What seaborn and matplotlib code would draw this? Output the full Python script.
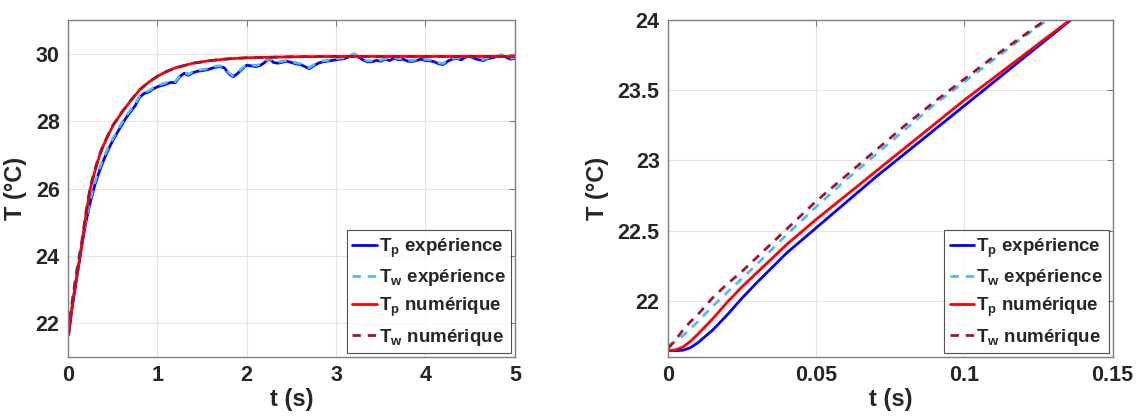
import numpy as np
import pandas as pd
import matplotlib
matplotlib.use("Agg")
import matplotlib.pyplot as plt
import seaborn as sns

# early times (s), shared by every series
t_early = [0, 0.0025, 0.005, 0.0075, 0.01, 0.015, 0.02, 0.025, 0.03, 0.04, 0.05,
           0.06, 0.07, 0.08, 0.09, 0.1, 0.11, 0.12, 0.13, 0.14, 0.15]

tp_exp_early = [21.645, 21.645, 21.648, 21.665, 21.70, 21.79, 21.90, 22.02, 22.13, 22.34, 22.52,
                22.70, 22.88, 23.05, 23.22, 23.39, 23.56, 23.73, 23.90, 24.07, 24.24]
tw_exp_early = [21.68, 21.71, 21.75, 21.80, 21.85, 21.96, 22.06, 22.16, 22.26, 22.47, 22.67,
                22.86, 23.04, 23.22, 23.40, 23.56, 23.72, 23.88, 24.03, 24.18, 24.33]
tp_num_early = [21.645, 21.65, 21.67, 21.71, 21.76, 21.87, 21.99, 22.10, 22.20, 22.40, 22.58,
                22.75, 22.92, 23.09, 23.26, 23.43, 23.59, 23.75, 23.91, 24.07, 24.23]
tw_num_early = [21.66, 21.72, 21.79, 21.85, 21.90, 22.02, 22.12, 22.21, 22.31, 22.51, 22.71,
                22.89, 23.07, 23.25, 23.42, 23.58, 23.74, 23.89, 24.04, 24.19, 24.34]

# later part, experiment sampled every 0.05 s from 0.2 to 5 s
t_exp_late = np.linspace(0.2, 5.0, 97)
tp_exp_late = [25.00, 25.60, 26.10, 26.50, 26.85, 27.15, 27.42, 27.65, 27.88, 28.10,
               28.28, 28.45, 28.70, 28.82, 28.86, 28.95, 29.02, 29.06, 29.10, 29.15,
               29.14, 29.32, 29.42, 29.36, 29.44, 29.48, 29.50, 29.52, 29.56, 29.60,
               29.62, 29.58, 29.40, 29.32, 29.42, 29.55, 29.66, 29.64, 29.62, 29.65,
               29.74, 29.86, 29.74, 29.72, 29.75, 29.78, 29.74, 29.70, 29.68, 29.62,
               29.56, 29.64, 29.72, 29.76, 29.78, 29.80, 29.82, 29.84, 29.86, 29.92,
               29.97, 29.90, 29.82, 29.76, 29.76, 29.80, 29.78, 29.84, 29.80, 29.87,
               29.82, 29.84, 29.78, 29.77, 29.80, 29.84, 29.80, 29.79, 29.76, 29.70,
               29.68, 29.78, 29.84, 29.86, 29.82, 29.90, 29.92, 29.86, 29.82, 29.80,
               29.86, 29.88, 29.92, 29.96, 29.90, 29.84, 29.86]
tw_exp_late = [25.08, 25.68, 26.18, 26.58, 26.92, 27.22, 27.48, 27.72, 27.94, 28.16,
               28.33, 28.50, 28.74, 28.85, 28.90, 28.98, 29.06, 29.10, 29.14, 29.18,
               29.17, 29.35, 29.45, 29.39, 29.47, 29.50, 29.53, 29.55, 29.59, 29.63,
               29.64, 29.61, 29.43, 29.35, 29.45, 29.58, 29.68, 29.67, 29.65, 29.68,
               29.76, 29.88, 29.77, 29.75, 29.78, 29.80, 29.77, 29.73, 29.71, 29.65,
               29.59, 29.67, 29.75, 29.79, 29.80, 29.83, 29.85, 29.87, 29.88, 29.95,
               30.00, 29.93, 29.85, 29.79, 29.79, 29.83, 29.81, 29.86, 29.83, 29.89,
               29.85, 29.86, 29.81, 29.80, 29.83, 29.86, 29.83, 29.82, 29.79, 29.73,
               29.71, 29.81, 29.86, 29.88, 29.85, 29.92, 29.94, 29.89, 29.85, 29.83,
               29.88, 29.90, 29.94, 29.97, 29.92, 29.87, 29.88]

t_num_late = [0.2, 0.25, 0.3, 0.35, 0.4, 0.5, 0.6, 0.7, 0.8, 0.9, 1.0, 1.1, 1.2,
              1.4, 1.6, 1.8, 2.0, 2.5, 3.0, 3.5, 4.0, 4.5, 5.0]
tp_num_late = [25.20, 26.00, 26.50, 26.95, 27.30, 27.85, 28.25, 28.60, 28.92, 29.15, 29.33,
               29.47, 29.58, 29.72, 29.80, 29.85, 29.88, 29.91, 29.92, 29.92, 29.92, 29.92, 29.92]
tw_num_late = [25.30, 26.06, 26.56, 26.99, 27.33, 27.87, 28.26, 28.61, 28.93, 29.15, 29.33,
               29.47, 29.58, 29.72, 29.80, 29.85, 29.88, 29.91, 29.92, 29.92, 29.92, 29.92, 29.92]

series = [
    # label, times, values, colour, dashed
    (r"T$_\mathbf{p}$ expérience", t_early + list(t_exp_late), tp_exp_early + tp_exp_late, "#0000FF", False),
    (r"T$_\mathbf{w}$ expérience", t_early + list(t_exp_late), tw_exp_early + tw_exp_late, "#4DBEEE", True),
    (r"T$_\mathbf{p}$ numérique", t_early + t_num_late, tp_num_early + tp_num_late, "#FF0000", False),
    (r"T$_\mathbf{w}$ numérique", t_early + t_num_late, tw_num_early + tw_num_late, "#A2142F", True),
]

sns.set_style("whitegrid")
plt.rcParams["font.family"] = ["Liberation Sans", "DejaVu Sans"]
plt.rcParams["font.weight"] = "bold"
plt.rcParams["mathtext.fontset"] = "custom"
plt.rcParams["mathtext.rm"] = "Liberation Sans:bold"
plt.rcParams["mathtext.bf"] = "Liberation Sans:bold"

fig = plt.figure(figsize=(11.37, 4.18), dpi=100)
ax1 = fig.add_axes([0.0598, 0.146, 0.393, 0.806])
ax2 = fig.add_axes([0.5875, 0.146, 0.391, 0.806])

for ax in (ax1, ax2):
    for label, t, v, color, dashed in series:
        df = pd.DataFrame({"t": t, "T": v})
        line_kw = dict(linestyle=(0, (3, 2.5))) if dashed else {}
        sns.lineplot(data=df, x="t", y="T", ax=ax, color=color, linewidth=2,
                     label=label, estimator=None, sort=False, **line_kw)
    ax.grid(True, color="#e3e3e3", linewidth=0.8)
    for s in ax.spines.values():
        s.set_color("#7f7f7f")
        s.set_linewidth(1.0)
    ax.tick_params(direction="in", top=True, right=True, length=4, color="#7f7f7f",
                   labelsize=15.5, labelcolor="#262626", pad=6)
    for lab in ax.get_xticklabels() + ax.get_yticklabels():
        lab.set_fontweight("bold")
    ax.set_xlabel("t (s)", fontsize=17, fontweight="bold", color="#262626", labelpad=1)
    ax.set_ylabel("T (°C)", fontsize=17, fontweight="bold", color="#262626", labelpad=6)
    leg = ax.legend(loc="lower right", fontsize=13.5, handlelength=1.3, handletextpad=0.1,
                    borderpad=0.3, labelspacing=0.4, frameon=True, fancybox=False,
                    borderaxespad=0.2)
    leg.get_frame().set_edgecolor("#262626")
    leg.get_frame().set_linewidth(0.8)
    for txt in leg.get_texts():
        txt.set_fontweight("bold")

ax1.set_xlim(0, 5)
ax1.set_ylim(21, 31)
ax1.set_xticks([0, 1, 2, 3, 4, 5])
ax1.set_yticks([22, 24, 26, 28, 30])

ax2.set_xlim(0, 0.15)
ax2.set_ylim(21.6, 24)
ax2.set_xticks([0, 0.05, 0.1, 0.15])
ax2.set_xticklabels(["0", "0.05", "0.1", "0.15"])
ax2.set_yticks([22, 22.5, 23, 23.5, 24])
ax2.set_yticklabels(["22", "22.5", "23", "23.5", "24"])

fig.savefig("out.png", dpi=100)
